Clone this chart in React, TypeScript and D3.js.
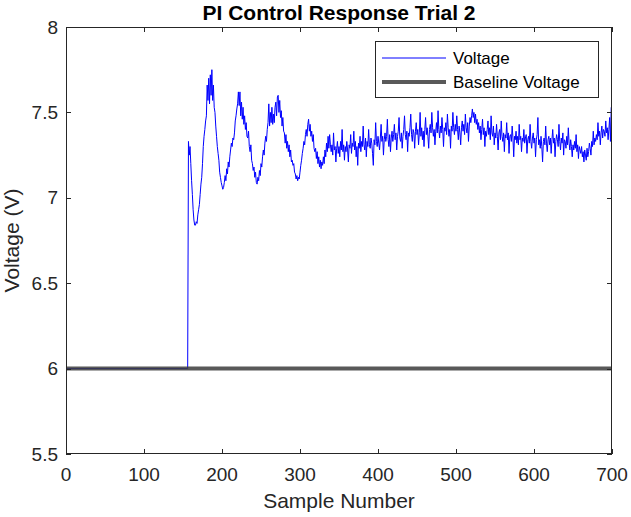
import React from "react";
import * as d3 from "d3";

// ---- data ----
const title = "PI Control Response Trial 2";
const xLabel = "Sample Number";
const yLabel = "Voltage (V)";
const seriesNames = ["Voltage", "Baseline Voltage"];

const xTicks = [0, 100, 200, 300, 400, 500, 600, 700];
const yTicks = [5.5, 6, 6.5, 7, 7.5, 8];
const yTickLabels = ["5.5", "6", "6.5", "7", "7.5", "8"];

const baselineVoltage = 6.0;
// flat pre-step segment (sample, voltage)
const preStepPoints: [number, number][] = [
  [0, 6.0],
  [156, 6.0],
];
const transientStart = 157;
// samples 157..339
const transientVoltage = [
  7.33, 7.25, 7.30,
  7.20, 7.10, 7.02, 6.93, 6.87, 6.84, 6.84, 6.86, 6.85, 6.90,
  6.93, 6.96, 7.02, 7.08, 7.12, 7.20, 7.30, 7.36, 7.40, 7.45,
  7.48, 7.66, 7.57, 7.70, 7.55, 7.72, 7.60, 7.75, 7.57, 7.66,
  7.53, 7.50, 7.42, 7.36, 7.30, 7.26, 7.22, 7.15, 7.12, 7.09,
  7.07, 7.05, 7.06, 7.09, 7.13, 7.10, 7.17, 7.14, 7.21, 7.18,
  7.24, 7.28, 7.32, 7.30, 7.35, 7.34, 7.38, 7.45, 7.48, 7.52,
  7.55, 7.62, 7.54, 7.62, 7.48, 7.56, 7.46, 7.53, 7.43, 7.48,
  7.40, 7.44, 7.36, 7.35, 7.39, 7.30, 7.27, 7.31, 7.22, 7.20,
  7.16, 7.18, 7.12, 7.15, 7.09, 7.08, 7.12, 7.10, 7.16, 7.13,
  7.20, 7.18, 7.24, 7.28, 7.25, 7.32, 7.36, 7.33, 7.40, 7.44,
  7.55, 7.42, 7.50, 7.44, 7.53, 7.43, 7.49, 7.44, 7.53, 7.56,
  7.48, 7.59, 7.60, 7.50, 7.57, 7.47, 7.51, 7.42, 7.47, 7.39,
  7.38, 7.32, 7.37, 7.29, 7.33, 7.27, 7.31, 7.24, 7.28, 7.21,
  7.22, 7.19, 7.20, 7.15, 7.14, 7.11, 7.13, 7.10, 7.12, 7.11,
  7.15, 7.19, 7.22, 7.26, 7.29, 7.33, 7.31, 7.37, 7.40, 7.36,
  7.43, 7.46, 7.39, 7.43, 7.36, 7.39, 7.33, 7.37, 7.29, 7.27,
  7.29, 7.23, 7.27, 7.20, 7.24, 7.18, 7.22, 7.17, 7.21, 7.19,
  7.24, 7.20, 7.28, 7.24, 7.32, 7.27, 7.36, 7.29, 7.37, 7.31,
];
// samples 340..699
const steadyVoltage = [
  7.27, 7.31, 7.25, 7.38, 7.28, 7.30, 7.21, 7.29, 7.33, 7.26,
  7.30, 7.24, 7.33, 7.28, 7.40, 7.27, 7.31, 7.22, 7.30, 7.27,
  7.33, 7.28, 7.21, 7.31, 7.29, 7.37, 7.26, 7.32, 7.30, 7.39,
  7.28, 7.33, 7.24, 7.30, 7.19, 7.32, 7.29, 7.36, 7.27, 7.33,
  7.30, 7.42, 7.31, 7.28, 7.35, 7.24, 7.33, 7.30, 7.40, 7.31,
  7.29, 7.35, 7.32, 7.26, 7.19, 7.34, 7.31, 7.44, 7.33, 7.30,
  7.36, 7.32, 7.28, 7.35, 7.43, 7.33, 7.36, 7.25, 7.34, 7.38,
  7.33, 7.36, 7.46, 7.34, 7.30, 7.37, 7.27, 7.35, 7.39, 7.33,
  7.37, 7.43, 7.34, 7.38, 7.28, 7.36, 7.39, 7.47, 7.35, 7.33,
  7.38, 7.29, 7.36, 7.40, 7.48, 7.37, 7.34, 7.39, 7.27, 7.38,
  7.36, 7.41, 7.49, 7.37, 7.33, 7.40, 7.38, 7.29, 7.39, 7.44,
  7.37, 7.40, 7.31, 7.38, 7.50, 7.36, 7.41, 7.34, 7.39, 7.30,
  7.40, 7.47, 7.37, 7.41, 7.36, 7.29, 7.40, 7.43, 7.38, 7.50,
  7.41, 7.36, 7.40, 7.31, 7.39, 7.44, 7.38, 7.51, 7.40, 7.35,
  7.42, 7.38, 7.47, 7.40, 7.30, 7.41, 7.39, 7.44, 7.37, 7.49,
  7.41, 7.36, 7.40, 7.29, 7.42, 7.39, 7.50, 7.41, 7.37, 7.43,
  7.39, 7.48, 7.40, 7.34, 7.42, 7.38, 7.31, 7.41, 7.45, 7.39,
  7.43, 7.37, 7.49, 7.41, 7.38, 7.44, 7.33, 7.42, 7.47, 7.44,
  7.48, 7.52, 7.47, 7.50, 7.44, 7.49, 7.43, 7.46, 7.40, 7.44,
  7.38, 7.42, 7.34, 7.40, 7.46, 7.37, 7.41, 7.30, 7.39, 7.36,
  7.40, 7.45, 7.37, 7.41, 7.34, 7.48, 7.38, 7.36, 7.42, 7.31,
  7.38, 7.35, 7.43, 7.36, 7.28, 7.38, 7.40, 7.34, 7.45, 7.36,
  7.33, 7.38, 7.27, 7.37, 7.35, 7.44, 7.34, 7.38, 7.26, 7.36,
  7.37, 7.33, 7.42, 7.35, 7.24, 7.36, 7.34, 7.39, 7.32, 7.36,
  7.31, 7.43, 7.34, 7.36, 7.27, 7.35, 7.33, 7.40, 7.32, 7.35,
  7.37, 7.26, 7.34, 7.36, 7.32, 7.43, 7.33, 7.29, 7.35, 7.38,
  7.32, 7.35, 7.24, 7.34, 7.37, 7.47, 7.31, 7.34, 7.29, 7.36,
  7.30, 7.21, 7.33, 7.35, 7.31, 7.42, 7.32, 7.27, 7.34, 7.36,
  7.31, 7.35, 7.26, 7.34, 7.40, 7.32, 7.35, 7.24, 7.33, 7.37,
  7.34, 7.30, 7.43, 7.33, 7.28, 7.35, 7.32, 7.38, 7.25, 7.34,
  7.33, 7.29, 7.36, 7.31, 7.41, 7.32, 7.28, 7.34, 7.30, 7.24,
  7.31, 7.28, 7.33, 7.29, 7.37, 7.27, 7.31, 7.23, 7.30, 7.28,
  7.26, 7.30, 7.24, 7.27, 7.21, 7.28, 7.25, 7.22, 7.29, 7.24,
  7.27, 7.32, 7.29, 7.25, 7.33, 7.30, 7.39, 7.31, 7.35, 7.33,
  7.37, 7.34, 7.44, 7.36, 7.39, 7.31, 7.38, 7.42, 7.35, 7.40,
  7.39, 7.36, 7.45, 7.38, 7.41, 7.34, 7.40, 7.47, 7.33, 7.53,
];

const xDomain: [number, number] = [0, 700];
const yDomain: [number, number] = [5.5, 8];

// ---- layout ----
const W = 631;
const H = 517;
const M = { left: 66, right: 612, top: 27, bottom: 454 };
const FONT = "'Liberation Sans', Arial, Helvetica, sans-serif";
const INK = "#262626";

export default function App() {
  const x = d3.scaleLinear().domain(xDomain).range([M.left, M.right]);
  const y = d3.scaleLinear().domain(yDomain).range([M.bottom, M.top]);

  const points: [number, number][] = [
    ...preStepPoints,
    ...transientVoltage.map((v, i) => [transientStart + i, v] as [number, number]),
    ...steadyVoltage.map(
      (v, i) => [transientStart + transientVoltage.length + i, v] as [number, number]
    ),
  ];
  const line = d3
    .line<[number, number]>()
    .x((d) => x(d[0]))
    .y((d) => y(d[1]));

  const tickLen = 5;
  const baseY = y(baselineVoltage);

  const legX = 375;
  const legY = 41;
  const legW = 223;
  const legH = 56;

  return (
    <svg
      width={W}
      height={H}
      style={{ position: "absolute", left: 0, top: 0, background: "#fff" }}
      fontFamily={FONT}
    >
      <rect x={0} y={0} width={W} height={H} fill="#fff" />
      {/* data */}
      <path d={line(points) || ""} fill="none" stroke="#0000ff" strokeWidth={1} />
      <line
        x1={x(xDomain[0])}
        x2={x(xDomain[1])}
        y1={baseY}
        y2={baseY}
        stroke="#3c3c3c"
        strokeOpacity={0.85}
        strokeWidth={4}
      />

      {/* axes box */}
      <rect
        x={M.left + 0.5}
        y={M.top + 0.5}
        width={M.right - M.left - 1}
        height={M.bottom - M.top - 1}
        fill="none"
        stroke={INK}
        strokeWidth={1}
      />
      {xTicks.map((t) => {
        const px = Math.round(x(t)) + 0.5;
        return (
          <g key={"xt" + t}>
            <line x1={px} x2={px} y1={M.bottom} y2={M.bottom - tickLen} stroke={INK} />
            <line x1={px} x2={px} y1={M.top} y2={M.top + tickLen} stroke={INK} />
            <text x={x(t)} y={481} textAnchor="middle" fontSize={19} fill={INK}>
              {t}
            </text>
          </g>
        );
      })}
      {yTicks.map((t, i) => {
        const py = Math.round(y(t)) + 0.5;
        return (
          <g key={"yt" + t}>
            <line x1={M.left} x2={M.left + tickLen} y1={py} y2={py} stroke={INK} />
            <line x1={M.right} x2={M.right - tickLen} y1={py} y2={py} stroke={INK} />
            <text
              x={58}
              y={y(t)}
              textAnchor="end"
              dominantBaseline="central"
              fontSize={19}
              fill={INK}
            >
              {yTickLabels[i]}
            </text>
          </g>
        );
      })}

      {/* labels */}
      <text x={(M.left + M.right) / 2} y={20} textAnchor="middle" fontSize={21} fontWeight="bold" fill="#000">
        {title}
      </text>
      <text x={(M.left + M.right) / 2} y={508} textAnchor="middle" fontSize={21} fill={INK}>
        {xLabel}
      </text>
      <text
        transform={`translate(19, ${(M.top + M.bottom) / 2}) rotate(-90)`}
        textAnchor="middle"
        fontSize={21}
        fill={INK}
      >
        {yLabel}
      </text>

      {/* legend */}
      <rect x={legX + 0.5} y={legY + 0.5} width={legW} height={legH} fill="#fff" stroke={INK} />
      <line x1={382} x2={446} y1={58} y2={58} stroke="#0000ff" strokeWidth={1} />
      <text x={453} y={58} dominantBaseline="central" fontSize={17} fill="#000">
        {seriesNames[0]}
      </text>
      <line x1={382} x2={446} y1={82} y2={82} stroke="#3c3c3c" strokeOpacity={0.85} strokeWidth={4} />
      <text x={453} y={82} dominantBaseline="central" fontSize={17} fill="#000">
        {seriesNames[1]}
      </text>
    </svg>
  );
}
